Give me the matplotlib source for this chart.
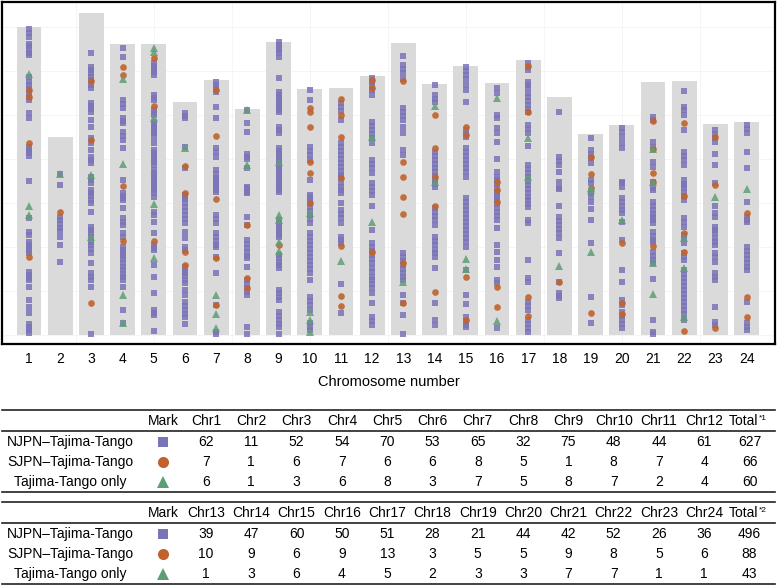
import matplotlib
matplotlib.use("Agg")
import matplotlib.pyplot as plt
import numpy as np

plt.rcParams['font.family'] = ['Liberation Sans', 'DejaVu Sans']

# ---------------- data ----------------
chromosomes = list(range(1, 25))
chrom_lengths = [70.0, 45.0, 73.2, 66.1, 66.1, 53.0, 58.0, 51.4, 66.6, 55.9, 56.1, 58.9,
                 66.4, 57.0, 61.1, 57.3, 62.5, 54.1, 45.7, 47.7, 57.5, 57.7, 48.0, 48.4]

# NJPN–Tajima-Tango (squares), positions per chromosome
square_pos = [
    [69.5, 68.6, 67.7, 66.1, 65.7, 64.8, 64.1, 63.6, 58.6, 57.5, 56.8, 55.9, 55.0, 54.1, 53.4, 50.5, 49.3,
     42.7, 42.0, 41.4, 40.7, 35.0, 26.6, 23.4, 22.7, 21.1, 20.5, 19.8, 19.1, 18.6, 14.3, 13.6, 13.0, 12.5,
     10.9, 8.0, 6.4, 5.0, 2.5, 1.8, 1.1, 0.5],
    [36.6, 34.1, 26.8, 26.1, 25.2, 24.3, 23.6, 22.3, 20.5, 16.6],
    [64.1, 60.9, 60.2, 59.5, 58.6, 58.0, 56.8, 56.1, 52.7, 52.0, 51.4, 50.7, 48.9, 47.3, 44.8, 43.6, 42.0,
     40.5, 39.8, 39.1, 35.9, 35.2, 34.5, 33.0, 32.3, 31.6, 30.7, 30.0, 28.0, 24.5, 23.9, 23.2, 22.3, 21.1,
     20.5, 19.5, 18.6, 16.4, 14.1, 13.2, 12.5, 10.9, 0.2],
    [65.2, 63.2, 53.4, 52.5, 51.6, 49.3, 48.6, 48.2, 46.1, 45.2, 44.3, 42.5, 35.2, 32.3, 31.6, 31.1, 30.7,
     28.9, 26.6, 25.7, 25.0, 23.2, 22.3, 20.0, 19.3, 18.6, 18.0, 17.3, 16.4, 15.5, 14.8, 13.9, 13.2, 12.5,
     10.9, 5.7, 2.7],
    [61.8, 61.1, 60.5, 59.8, 59.1, 54.5, 53.9, 53.4, 51.1, 50.5, 50.0, 48.4, 47.7, 47.0, 46.4, 45.9, 45.0,
     43.6, 42.0, 41.4, 40.7, 40.0, 39.3, 38.6, 37.5, 36.8, 36.1, 35.5, 34.8, 33.6, 33.0, 32.3, 34.3, 33.4,
     31.4, 28.0, 27.3, 25.7, 23.2, 20.5, 19.8, 19.3, 15.9, 13.2, 9.5, 5.7, 5.0, 4.5, 0.9],
    [50.5, 49.8, 49.3, 42.7, 38.0, 31.4, 31.8, 30.9, 30.0, 29.1, 28.2, 27.3, 26.4, 25.5, 23.4, 22.0, 20.0,
     19.3, 15.5, 14.8, 14.1, 13.4, 12.5, 11.8, 10.2, 9.1, 7.5, 6.6, 5.7, 4.8, 4.1, 2.5],
    [57.5, 56.8, 56.1, 55.2, 51.8, 49.3, 42.5, 41.6, 40.5, 37.5, 36.6, 35.7, 34.8, 33.9, 33.0, 32.5, 35.2,
     34.3, 33.6, 27.3, 26.4, 25.5, 23.2, 22.3, 21.4, 20.5, 20.0, 17.7, 14.1, 6.8, 0.7, 0.3],
    [51.1, 48.2, 46.1, 41.1, 40.5, 40.0, 38.0, 33.6, 32.5, 33.4, 32.3, 26.8, 25.0, 21.6, 20.7, 19.8, 18.9,
     18.0, 17.5, 15.5, 12.5, 11.6, 10.7, 9.8, 9.1, 1.8, 0.2],
    [66.6, 65.9, 65.2, 64.8, 64.1, 63.2, 58.4, 55.2, 54.5, 53.9, 53.2, 52.5, 51.8, 51.1, 50.7, 47.3, 46.6,
     45.9, 42.5, 41.8, 41.1, 40.5, 39.8, 39.1, 38.4, 37.7, 37.0, 36.4, 35.7, 35.0, 34.3, 33.6, 33.0, 32.5,
     26.1, 25.5, 24.8, 24.1, 23.4, 22.7, 22.3, 18.2, 17.5, 16.6, 15.9, 15.2, 10.2, 9.5, 8.6, 8.0, 5.2, 4.3,
     3.4, 2.5, 1.8, 0.2],
    [55.7, 53.4, 42.7, 41.8, 40.9, 39.8, 35.2, 31.4, 31.8, 30.9, 30.0, 29.1, 28.2, 27.3, 26.4, 25.5, 23.2,
     22.3, 21.4, 20.5, 19.5, 18.6, 17.7, 16.8, 15.9, 15.0, 14.1, 12.5, 8.6, 7.7, 6.8, 5.7, 2.7, 1.8, 1.1],
    [52.7, 51.8, 50.9, 48.9, 43.6, 42.7, 41.8, 40.9, 40.0, 39.1, 38.2, 37.3, 36.4, 35.9, 34.5, 33.6, 33.0,
     32.3, 30.0, 28.4, 27.5, 26.6, 25.5, 22.3, 21.6, 20.9, 11.6, 5.0],
    [58.4, 57.5, 56.6, 55.7, 54.5, 48.4, 47.5, 46.6, 45.7, 44.8, 43.6, 39.8, 38.9, 38.0, 36.8, 34.5, 33.6,
     32.7, 31.8, 29.3, 23.9, 20.9, 20.0, 19.1, 18.2, 17.3, 16.4, 15.2, 14.3, 13.2, 12.5, 11.6, 10.7, 9.5,
     7.3, 4.1, 3.2, 2.3],
    [63.4, 61.4, 60.5, 59.5, 58.2, 51.6, 50.7, 49.8, 48.9, 47.3, 45.9, 42.0, 40.9, 18.6, 17.7, 16.8, 15.9,
     15.0, 14.1, 13.2, 12.5, 9.1, 7.3, 4.5, 0.2],
    [56.8, 54.5, 53.6, 53.0, 41.6, 40.7, 39.8, 38.9, 38.0, 37.0, 36.1, 35.2, 34.3, 33.6, 34.5, 28.9, 28.0,
     27.0, 26.1, 25.0, 22.3, 21.4, 20.5, 19.3, 18.6, 17.7, 15.2, 7.3, 3.4, 2.3],
    [60.9, 60.0, 59.1, 58.2, 56.8, 55.7, 53.0, 46.6, 45.7, 45.0, 42.5, 41.6, 40.7, 39.8, 38.9, 38.0, 37.0,
     35.9, 31.1, 30.2, 29.3, 28.4, 27.5, 26.6, 25.7, 24.8, 23.9, 23.0, 22.0, 21.1, 20.0, 14.8, 9.1, 7.0,
     4.1, 3.2, 2.3, 1.8],
    [56.1, 55.0, 50.0, 49.3, 47.0, 45.9, 43.9, 40.0, 37.0, 35.9, 32.3, 31.1, 35.2, 34.3, 33.4, 32.5, 31.6,
     30.7, 29.8, 28.9, 28.0, 27.0, 26.1, 24.3, 20.5, 18.9, 17.0, 15.5, 12.5, 11.8, 1.6],
    [61.8, 60.9, 60.2, 57.5, 56.8, 56.4, 55.0, 54.1, 53.2, 52.3, 51.4, 50.7, 47.7, 46.8, 45.9, 43.0, 38.6,
     37.7, 36.8, 35.9, 35.0, 34.1, 33.2, 32.3, 31.4, 30.7, 29.8, 29.1, 26.1, 25.5, 17.0, 13.0, 12.0, 7.5,
     6.6, 5.7, 3.4, 2.5, 1.6, 0.7],
    [50.7, 40.5, 39.5, 38.6, 37.0, 34.8, 33.2, 33.4, 29.3, 26.8, 25.9, 25.0, 24.1, 23.2, 22.0, 18.6, 12.0,
     9.5, 8.9, 8.4],
    [44.8, 42.0, 41.1, 40.2, 39.1, 35.2, 34.5, 32.3, 31.4, 30.2, 28.6, 26.1, 20.9, 8.6, 2.7],
    [47.0, 46.1, 45.0, 43.6, 42.5, 34.8, 33.6, 34.5, 31.1, 30.2, 29.3, 28.4, 27.7, 25.7, 21.6, 14.8, 12.0,
     8.0, 6.8, 5.2, 4.3, 3.4, 2.5, 1.6],
    [49.5, 48.9, 43.9, 42.7, 39.3, 38.2, 33.0, 34.8, 33.4, 30.2, 29.3, 28.4, 27.5, 26.8, 26.1, 25.5, 23.4,
     22.5, 21.6, 21.1, 18.9, 18.0, 17.0, 16.4, 12.7, 3.4, 0.7, 0.2],
    [55.5, 51.8, 51.1, 50.0, 46.6, 41.6, 40.7, 39.8, 38.6, 34.1, 32.5, 31.6, 30.7, 35.2, 34.3, 33.4, 26.6,
     25.7, 24.5, 22.7, 21.8, 20.9, 18.6, 17.7, 17.0, 14.8, 13.9, 13.0, 12.0, 11.1, 10.2, 9.3, 8.4, 7.5,
     6.6, 5.7, 4.8, 3.4],
    [46.6, 45.7, 44.8, 43.9, 41.1, 38.6, 34.5, 29.3, 27.7, 26.8, 24.5, 23.9, 23.2, 22.0, 21.1, 20.5, 18.6,
     17.7, 16.6, 14.1, 13.2, 12.5, 6.4, 3.0, 2.3],
    [47.7, 46.8, 45.9, 41.6, 38.0, 30.2, 26.8, 26.1, 25.7, 20.0, 19.1, 18.2, 17.3, 16.4, 15.5, 14.8, 7.5,
     2.7, 1.8, 1.1],
]

# SJPN–Tajima-Tango (circles)
circle_pos = [
    [43.6, 17.7, 55.7, 54.1],
    [28.0],
    [57.7, 44.3, 7.3],
    [60.9, 59.1, 33.9, 21.4],
    [63.0, 52.0, 21.4],
    [38.4, 32.3, 18.9, 15.9],
    [45.2, 30.9, 6.8, 55.7, 17.5],
    [25.0, 13.0, 10.7],
    [20.5],
    [51.6, 50.7, 47.3, 39.3, 36.8, 30.0],
    [53.6, 50.0, 45.0, 35.7, 20.2, 8.9, 6.6],
    [18.9, 58.0, 56.1],
    [57.7, 39.3, 35.9, 31.4, 27.5, 16.4, 7.3],
    [50.0, 42.5, 35.9, 29.3, 9.8],
    [47.3, 45.5, 13.2, 3.4],
    [34.8, 33.0, 30.2, 10.9, 6.4],
    [8.6, 4.3, 61.1, 50.7],
    [12.0],
    [40.5, 36.6, 33.4, 5.0],
    [20.9, 7.3, 4.8],
    [48.6, 42.3, 36.8, 34.8, 20.2],
    [48.2, 31.6, 23.2, 18.9, 0.9],
    [45.0, 34.1, 1.6],
    [27.7, 8.6, 4.1],
]

# Tajima-Tango only (triangles)
triangle_pos = [
    [59.3, 29.3, 27.3],
    [36.6],
    [36.4, 22.3],
    [58.2, 38.9, 9.1, 2.7],
    [65.2, 64.3, 49.3, 29.8, 17.5],
    [42.5],
    [9.1, 4.8, 1.6],
    [51.1, 38.6],
    [39.3, 27.3, 26.1, 21.1, 19.1],
    [5.2, 3.4, 0.7, 27.7],
    [16.8],
    [45.0, 25.7],
    [12.0],
    [52.0, 34.8],
    [17.3, 15.0],
    [53.9, 3.2],
    [44.8, 35.9],
    [15.7],
    [33.4, 33.0, 18.9],
    [26.1],
    [42.3, 34.8, 16.4, 9.3],
    [15.2, 4.1, 22.0],
    [31.4],
    [33.2],
]

# Table
row_labels = ["NJPN\u2013Tajima-Tango", "SJPN\u2013Tajima-Tango", "Tajima-Tango only"]
table1_cols = ["Chr%d" % i for i in range(1, 13)]
table2_cols = ["Chr%d" % i for i in range(13, 25)]
njpn_t1 = [62, 11, 52, 54, 70, 53, 65, 32, 75, 48, 44, 61, 627]
sjpn_t1 = [7, 1, 6, 7, 6, 6, 8, 5, 1, 8, 7, 4, 66]
only_t1 = [6, 1, 3, 6, 8, 3, 7, 5, 8, 7, 2, 4, 60]
njpn_t2 = [39, 47, 60, 50, 51, 28, 21, 44, 42, 52, 26, 36, 496]
sjpn_t2 = [10, 9, 6, 9, 13, 3, 5, 5, 9, 8, 5, 6, 88]
only_t2 = [1, 3, 6, 4, 5, 2, 3, 3, 7, 7, 1, 1, 43]

# ---------------- style ----------------
c_sq = '#7a74b8'
c_ci = '#c0622c'
c_tr = '#5e9e76'
bar_c = '#dadada'

W, H = 777, 587
fig = plt.figure(figsize=(W / 100, H / 100), dpi=100)

ax = fig.add_axes([2 / W, 1 - 344 / H, (775 - 2) / W, (344 - 2) / H])
ax.set_xlim(0.135, 24.91)
ax.set_ylim(-2.05, 75.7)

for gx in np.arange(2.5, 25, 2.5):
    ax.axvline(gx, color='#f2f2f2', lw=0.5, zorder=0)
for gy in np.arange(0, 80, 10):
    ax.axhline(gy, color='#f2f2f2', lw=0.5, zorder=0)

ax.bar(chromosomes, chrom_lengths, width=0.8, color=bar_c, zorder=1)

for i, c in enumerate(chromosomes):
    ys = square_pos[i]
    ax.plot([c] * len(ys), ys, ls='none', marker='s', ms=4.8, mew=0, color=c_sq, alpha=0.85, zorder=2)
for i, c in enumerate(chromosomes):
    ys = circle_pos[i]
    ax.plot([c] * len(ys), ys, ls='none', marker='o', ms=4.8, mew=0, color=c_ci, alpha=0.9, zorder=3)
for i, c in enumerate(chromosomes):
    ys = triangle_pos[i]
    ax.plot([c] * len(ys), ys, ls='none', marker='^', ms=5.2, mew=0, color=c_tr, alpha=0.85, zorder=4)

ax.set_xticks(chromosomes)
ax.set_xticklabels([str(c) for c in chromosomes], fontsize=10)
ax.set_yticks([])
ax.tick_params(axis='x', length=0, pad=6)
ax.set_xlabel("Chromosome number", fontsize=10.5, labelpad=6)
for s in ax.spines.values():
    s.set_linewidth(1.6)
    s.set_color('black')

# ---------------- table ----------------
tax = fig.add_axes([0, 0, 1, 1])
tax.set_xlim(0, W)
tax.set_ylim(H, 0)
tax.axis('off')
tax.patch.set_alpha(0)

label_x = 70
mark_x = 163
col_x = [206 + 45.3 * k for k in range(13)]
fs = 10


def draw_table(top, cols, sup, rows):
    header_y = top + 11
    row_y = [top + 32, top + 52, top + 72]
    for yy in (top, top + 21, top + 82):
        tax.plot([2, 775], [yy, yy], color='#222222', lw=1.2)
    tax.text(mark_x, header_y, "Mark", ha='center', va='center', fontsize=fs)
    for k, name in enumerate(cols):
        tax.text(col_x[k], header_y, name, ha='center', va='center', fontsize=fs)
    tax.text(758, header_y, "Total", ha='right', va='center', fontsize=fs)
    tax.text(758.5, header_y - 3, sup, ha='left', va='center', fontsize=6)
    markers = [('s', c_sq, 6.5), ('o', c_ci, 8), ('^', c_tr, 8)]
    for r, (lab, vals) in enumerate(zip(row_labels, rows)):
        tax.text(label_x, row_y[r], lab, ha='center', va='center', fontsize=fs)
        m, col, ms = markers[r]
        tax.plot([mark_x], [row_y[r]], marker=m, ms=ms, mew=0, color=col, ls='none')
        for k, v in enumerate(vals):
            tax.text(col_x[k], row_y[r], str(v), ha='center', va='center', fontsize=fs)


draw_table(410, table1_cols, "*1", [njpn_t1, sjpn_t1, only_t1])
draw_table(502, table2_cols, "*2", [njpn_t2, sjpn_t2, only_t2])

fig.savefig("out.png", dpi=100)
